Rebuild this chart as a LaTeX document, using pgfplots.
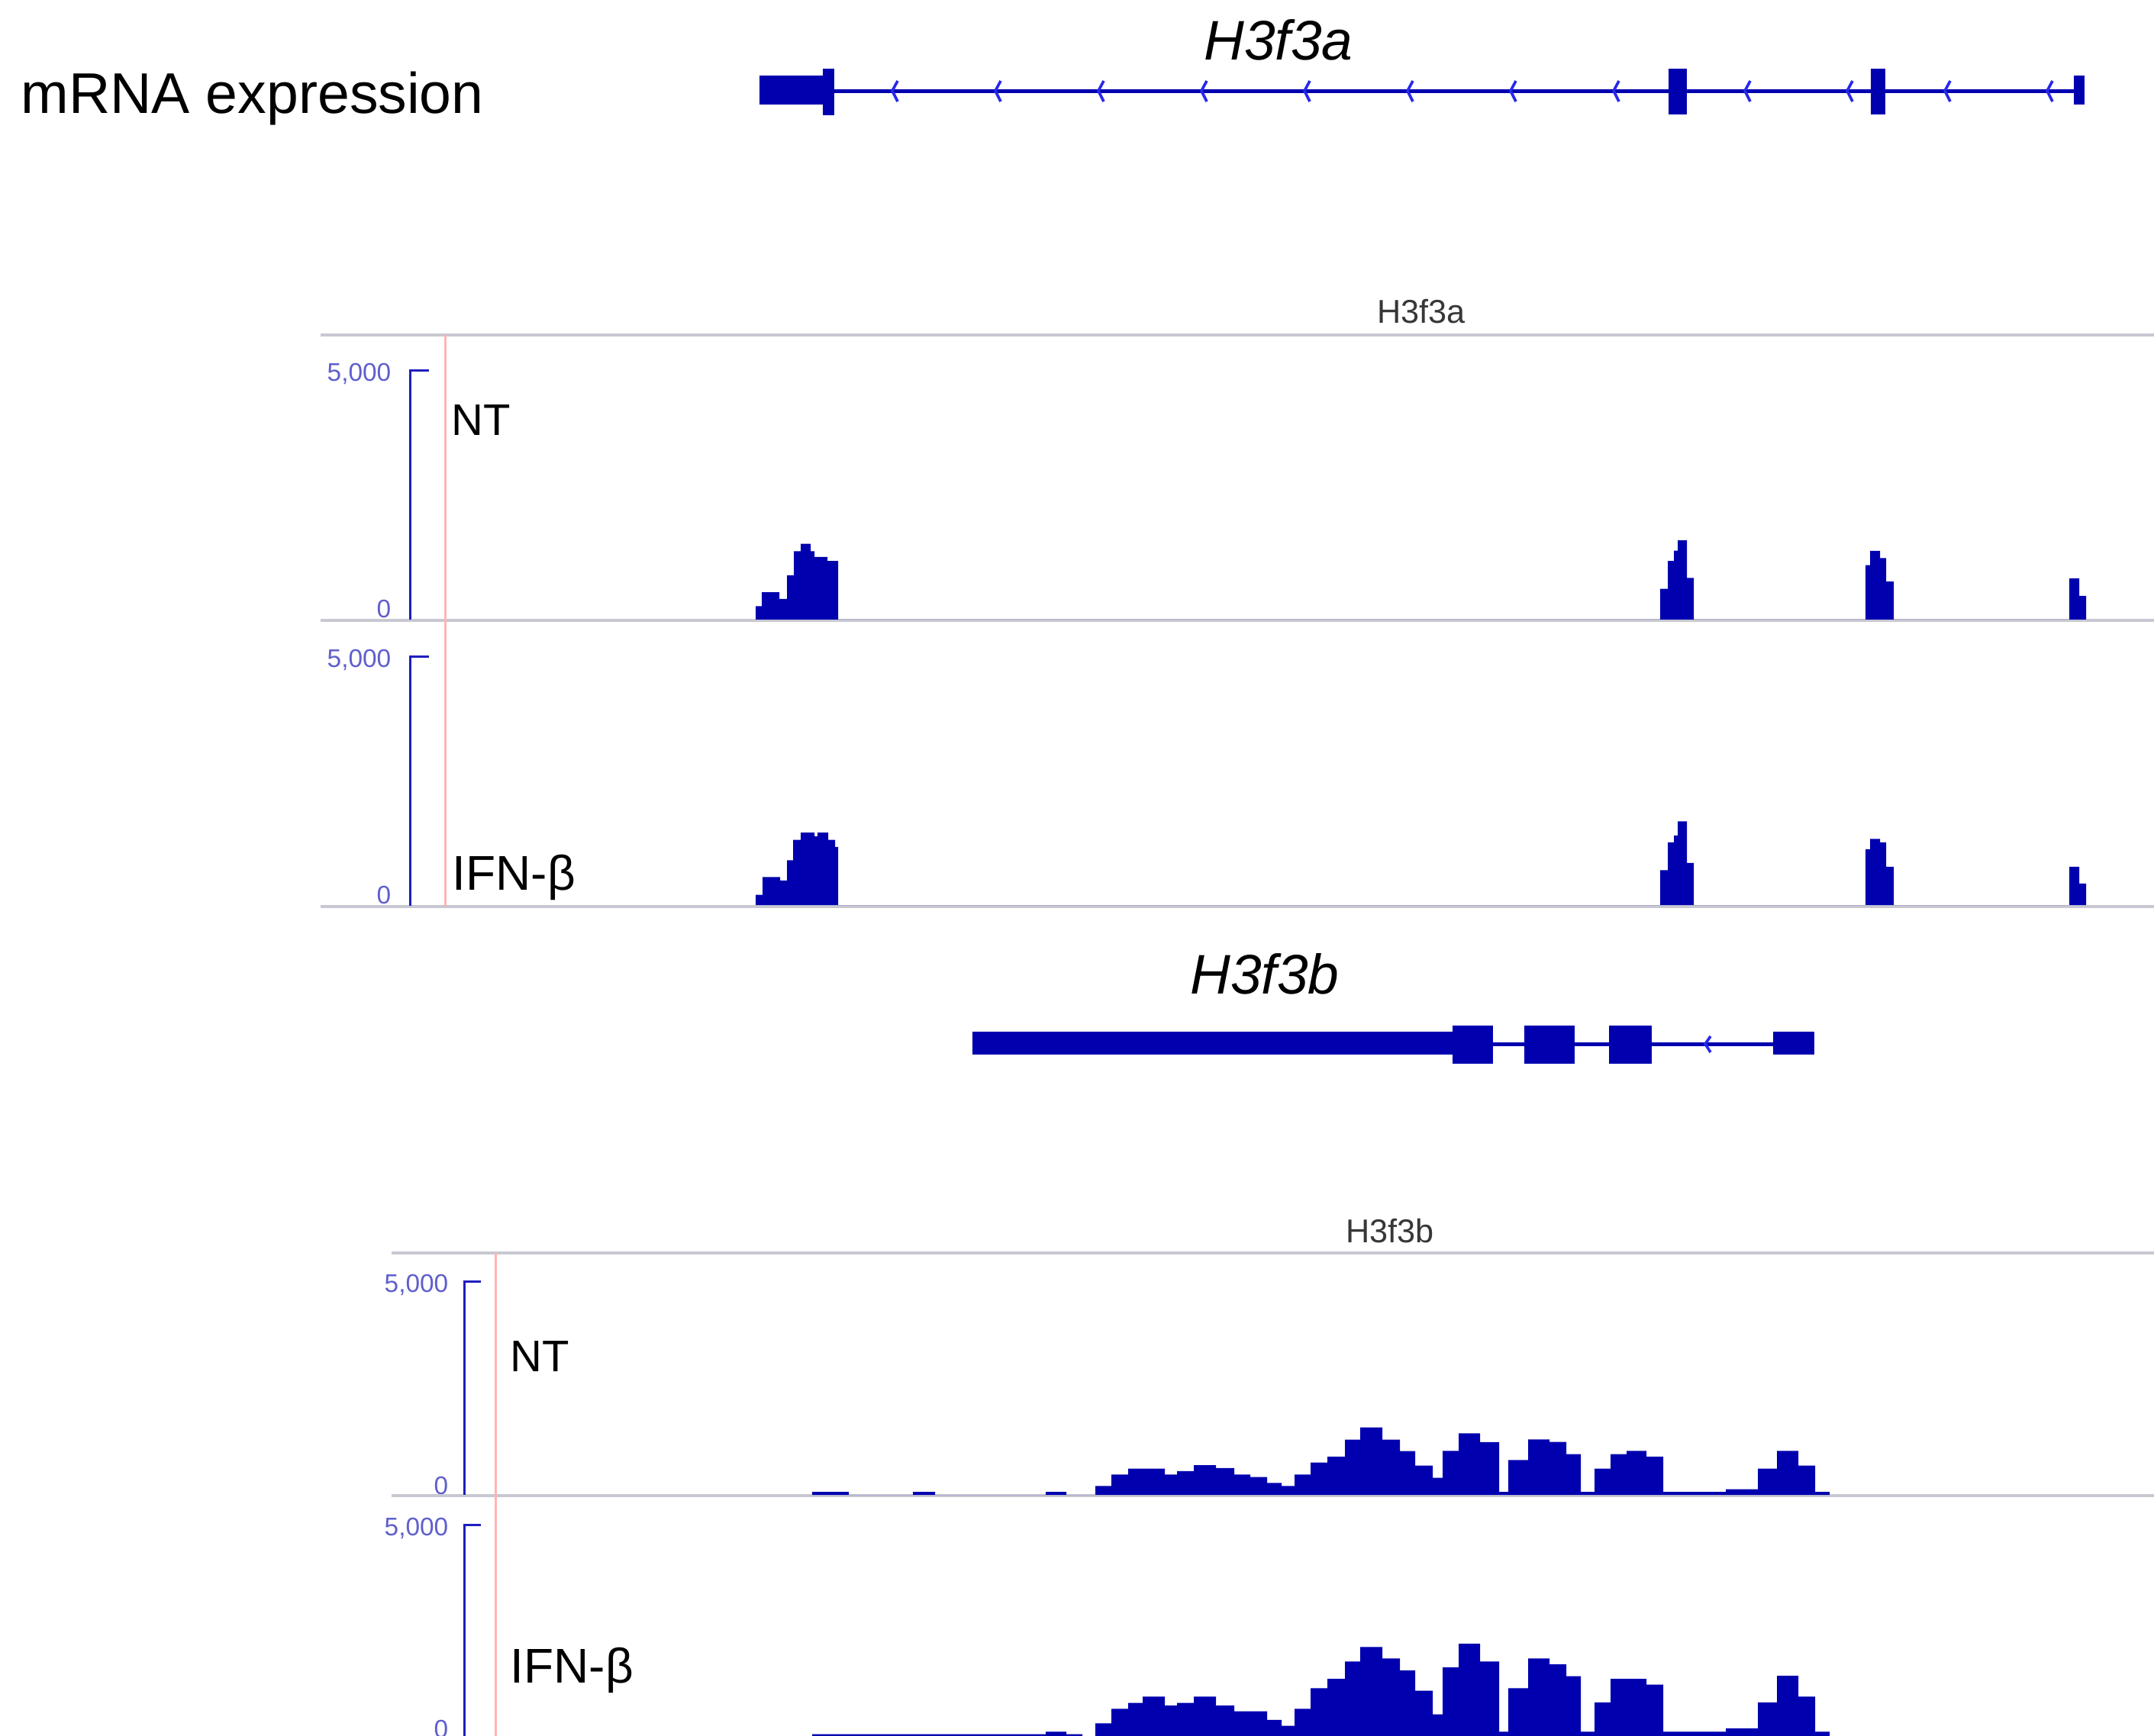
\documentclass[border=0pt]{standalone}
\usepackage{fontspec}
\setmainfont{Liberation Sans}
\usepackage{pgfplots}
\pgfplotsset{compat=1.18}
\definecolor{gb}{RGB}{0,0,175}
\definecolor{chev}{RGB}{40,40,235}
\definecolor{gl}{RGB}{200,200,210}
\definecolor{pk}{RGB}{255,180,180}
\definecolor{sc}{RGB}{95,95,205}
\definecolor{brk}{RGB}{30,30,190}
\definecolor{lbl}{RGB}{55,55,55}
\pgfplotsset{trk/.style={scale only axis, width=282.2mm, xmin=0, xmax=2822, ymin=0, ymax=5000, hide axis, anchor=south west}}
\pgfplotsset{ex/.style={fill=gb, draw=none, forget plot}}
\pgfplotsset{chv/.style={draw=chev, line width=0.36mm, forget plot}}
\begin{document}
\begin{tikzpicture}
\begin{axis}[at={(0,0)}, anchor=north west, scale only axis, width=282.2mm, height=227.5mm,
  xmin=0, xmax=2822, ymin=0, ymax=2275, y dir=reverse, hide axis, clip=false]
% ---- texts
\node[anchor=base west, inner sep=0, font=\fontsize{21.4}{25}\selectfont] at (axis cs:27,148) {mRNA expression};
\node[anchor=base, inner sep=0, font=\fontsize{20.8}{25}\selectfont\itshape] at (axis cs:1675,78) {H3f3a};
\node[anchor=base, inner sep=0, font=\fontsize{20.8}{25}\selectfont\itshape] at (axis cs:1657,1302) {H3f3b};
\node[anchor=base, inner sep=0, text=lbl, font=\fontsize{12.3}{14}\selectfont] at (axis cs:1862,423) {H3f3a};
\node[anchor=base, inner sep=0, text=lbl, font=\fontsize{12.3}{14}\selectfont] at (axis cs:1821,1628) {H3f3b};
\node[anchor=base west, inner sep=0, font=\fontsize{16.5}{19}\selectfont] at (axis cs:591,570) {NT};
\node[anchor=base west, inner sep=0, font=\fontsize{18.2}{21}\selectfont] at (axis cs:592,1166) {IFN-β};
\node[anchor=base west, inner sep=0, font=\fontsize{16.5}{19}\selectfont] at (axis cs:668,1797) {NT};
\node[anchor=base west, inner sep=0, font=\fontsize{18.2}{21}\selectfont] at (axis cs:668,2205) {IFN-β};
% scale labels
\node[anchor=east, inner sep=0, text=sc, font=\fontsize{9.5}{11}\selectfont] at (axis cs:513,490) {5,000};
\node[anchor=east, inner sep=0, text=sc, font=\fontsize{9.5}{11}\selectfont] at (axis cs:513,798) {0};
\node[anchor=east, inner sep=0, text=sc, font=\fontsize{9.5}{11}\selectfont] at (axis cs:513,865) {5,000};
\node[anchor=east, inner sep=0, text=sc, font=\fontsize{9.5}{11}\selectfont] at (axis cs:513,1173) {0};
\node[anchor=east, inner sep=0, text=sc, font=\fontsize{9.5}{11}\selectfont] at (axis cs:588,1684) {5,000};
\node[anchor=east, inner sep=0, text=sc, font=\fontsize{9.5}{11}\selectfont] at (axis cs:588,1947) {0};
\node[anchor=east, inner sep=0, text=sc, font=\fontsize{9.5}{11}\selectfont] at (axis cs:588,2003) {5,000};
\node[anchor=east, inner sep=0, text=sc, font=\fontsize{9.5}{11}\selectfont] at (axis cs:588,2266) {0};
% ---- gray separators
\addplot[gl, line width=0.4mm, forget plot] coordinates {(420,439) (2822,439)};
\addplot[gl, line width=0.4mm, forget plot] coordinates {(420,813) (2822,813)};
\addplot[gl, line width=0.4mm, forget plot] coordinates {(420,1188) (2822,1188)};
\addplot[gl, line width=0.4mm, forget plot] coordinates {(513,1642) (2822,1642)};
\addplot[gl, line width=0.4mm, forget plot] coordinates {(513,1960) (2822,1960)};
% pink lines
\addplot[pk, line width=0.3mm, forget plot] coordinates {(583,439) (583,1188)};
\addplot[pk, line width=0.3mm, forget plot] coordinates {(649,1642) (649,2280)};
% scale brackets
\addplot[brk, line width=0.3mm, forget plot] coordinates {(562,485) (537,485) (537,812)};
\addplot[brk, line width=0.3mm, forget plot] coordinates {(562,860) (537,860) (537,1187)};
\addplot[brk, line width=0.3mm, forget plot] coordinates {(630,1679) (608,1679) (608,1959)};
\addplot[brk, line width=0.3mm, forget plot] coordinates {(630,1998) (608,1998) (608,2280)};
% ---- H3f3a gene model
\addplot[gb, line width=0.5mm, forget plot] coordinates {(1093,119) (2717,119)};
\addplot[ex] coordinates {(995,99) (1078,99) (1078,137) (995,137)} -- cycle;
\addplot[ex] coordinates {(1078,90) (1093,90) (1093,151) (1078,151)} -- cycle;
\addplot[ex] coordinates {(2186,90) (2210,90) (2210,150) (2186,150)} -- cycle;
\addplot[ex] coordinates {(2451,90) (2470,90) (2470,150) (2451,150)} -- cycle;
\addplot[ex] coordinates {(2717,99) (2731,99) (2731,137) (2717,137)} -- cycle;
\addplot[chv] coordinates {(1176,106) (1169,119) (1176,133)};
\addplot[chv] coordinates {(1311,106) (1304,119) (1311,133)};
\addplot[chv] coordinates {(1446,106) (1439,119) (1446,133)};
\addplot[chv] coordinates {(1581,106) (1574,119) (1581,133)};
\addplot[chv] coordinates {(1716,106) (1709,119) (1716,133)};
\addplot[chv] coordinates {(1851,106) (1844,119) (1851,133)};
\addplot[chv] coordinates {(1986,106) (1979,119) (1986,133)};
\addplot[chv] coordinates {(2121,106) (2114,119) (2121,133)};
\addplot[chv] coordinates {(2293,106) (2286,119) (2293,133)};
\addplot[chv] coordinates {(2427,106) (2420,119) (2427,133)};
\addplot[chv] coordinates {(2555,106) (2548,119) (2555,133)};
\addplot[chv] coordinates {(2689,106) (2682,119) (2689,133)};
% ---- H3f3b gene model
\addplot[gb, line width=0.5mm, forget plot] coordinates {(1956,1368) (2323,1368)};
\addplot[ex] coordinates {(1274,1352) (1903,1352) (1903,1382) (1274,1382)} -- cycle;
\addplot[ex] coordinates {(1903,1344) (1956,1344) (1956,1394) (1903,1394)} -- cycle;
\addplot[ex] coordinates {(1997,1344) (2063,1344) (2063,1394) (1997,1394)} -- cycle;
\addplot[ex] coordinates {(2108,1344) (2164,1344) (2164,1394) (2108,1394)} -- cycle;
\addplot[ex] coordinates {(2323,1352) (2377,1352) (2377,1382) (2323,1382)} -- cycle;
\addplot[chv] coordinates {(2241,1358) (2234,1368) (2241,1379)};
\end{axis}
% ================= signal tracks =================
% H3f3a NT
\begin{axis}[trk, at={(0mm,-81.2mm)}, height=32.7mm]
\addplot[fill=gb, draw=none, const plot] coordinates {
(990,270) (998,550) (1021,413) (1031,887) (1040,1372) (1049,1518) (1062,1372) (1067,1254) (1084,1177) (1098,0)
(2175,616) (2185,1177) (2193,1381) (2198,1590) (2210,836) (2219,0)
(2444,1093) (2450,1377) (2463,1232) (2471,761) (2481,0)
(2711,826) (2724,477) (2733,0)} \closedcycle;
\end{axis}
% H3f3a IFN-beta
\begin{axis}[trk, at={(0mm,-118.6mm)}, height=32.6mm]
\addplot[fill=gb, draw=none, const plot] coordinates {
(990,205) (999,563) (1022,491) (1031,900) (1039,1309) (1049,1457) (1067,1381) (1071,1457) (1085,1309) (1094,1166) (1098,0)
(2175,700) (2185,1258) (2193,1398) (2198,1683) (2210,845) (2219,0)
(2444,1120) (2450,1330) (2463,1258) (2471,770) (2481,0)
(2711,770) (2724,430) (2733,0)} \closedcycle;
\end{axis}
% H3f3b NT
\begin{axis}[trk, at={(0mm,-195.9mm)}, height=28.1mm]
\addplot[fill=gb, draw=none, const plot] coordinates {
(1064,71) (1112,0) (1196,71) (1225,0) (1370,71) (1397,0)
(1435,208) (1456,475) (1478,611) (1526,475) (1542,552) (1564,694) (1593,623) (1617,475) (1638,415) (1660,279) (1679,208)
(1696,475) (1717,753) (1739,890) (1762,1287) (1782,1572) (1811,1287) (1834,1021) (1854,682) (1877,397)
(1890,1027) (1911,1436) (1939,1228) (1964,71) (1976,813) (2002,1294) (2030,1234) (2052,949) (2071,71)
(2089,611) (2110,949) (2131,1027) (2157,890) (2179,71) (2261,131) (2303,611) (2328,1027) (2356,682) (2378,71) (2397,0)} \closedcycle;
\end{axis}
% H3f3b IFN-beta
\begin{axis}[trk, at={(0mm,-228.0mm)}, height=28.1mm]
\addplot[fill=gb, draw=none, const plot] coordinates {
(1064,130) (1370,190) (1397,130) (1418,0)
(1435,386) (1456,724) (1478,860) (1497,1008) (1526,801) (1542,860) (1564,1008) (1593,801) (1617,664) (1660,463) (1679,326)
(1696,724) (1717,1204) (1739,1423) (1762,1827) (1782,2165) (1811,1898) (1834,1619) (1854,1144) (1877,593)
(1890,1690) (1911,2241) (1939,1827) (1964,190) (1976,1204) (2002,1898) (2030,1761) (2052,1482) (2071,190)
(2089,872) (2110,1423) (2157,1287) (2179,190) (2261,267) (2303,872) (2328,1494) (2356,1008) (2378,190) (2397,0)} \closedcycle;
\end{axis}
\pgfresetboundingbox
\useasboundingbox (0,0) rectangle (282.2mm,-227.5mm);
\end{tikzpicture}
\end{document}
